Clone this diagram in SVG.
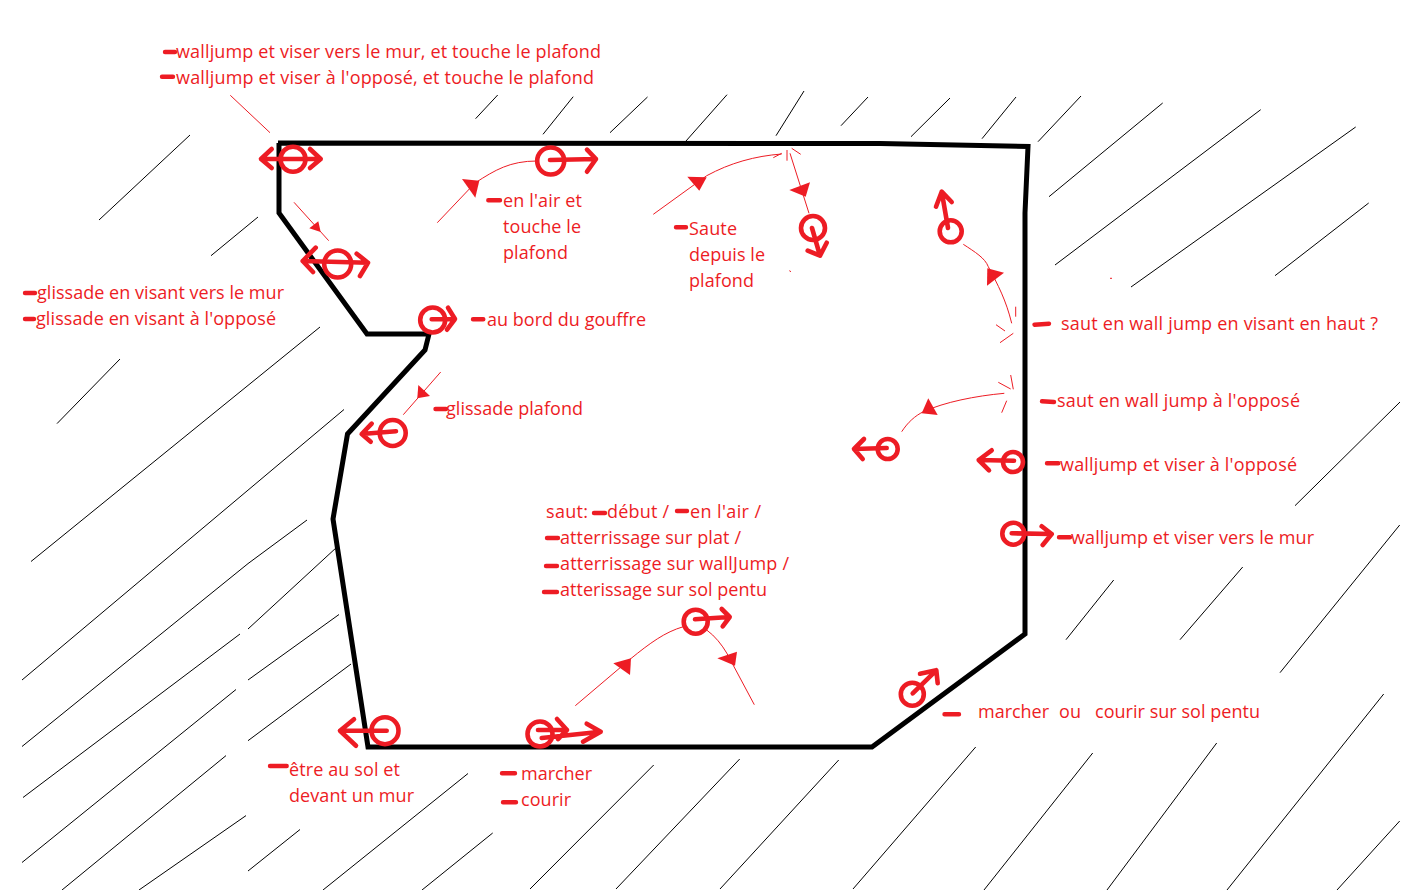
<svg xmlns="http://www.w3.org/2000/svg" width="1412" height="890" viewBox="0 0 1412 890">
<style>
.h{stroke:#000;stroke-width:1;fill:none}
.o{stroke:#000;stroke-width:5;fill:none;stroke-linejoin:miter}
.s{stroke:#ed1c24;stroke-width:4.6;fill:none;stroke-linecap:round;stroke-linejoin:round}
.d{stroke:#ed1c24;stroke-width:4.4;fill:none;stroke-linecap:round}
.t{stroke:#ed1c24;stroke-width:1;fill:none}
.a{fill:#ed1c24;stroke:none}
text{font-family:"Open Sans","Noto Sans","Liberation Sans",sans-serif;font-size:18px;fill:#ed1c24}
</style>
<rect width="1412" height="890" fill="#fff"/>
<g id="hatching">
<path class="h" d="M475.6 118.7L497.7 95M543 134.3L573.2 96.7M610 132.7L647.5 97M686 141L727 94.7M776 135.7L804 91M841 125.7L868 97M911 136.7L950 98M982 138.7L1016 97M1038 141.7L1081 96"/>
<path class="h" d="M99 220L190 135M211 255.7L258 217M57 423.6L120 359M31 561.5L320 327M22 680L344 409.5M22 746.5L248 563.6L307 520M248 629L337 547M23 797.5L240 634M248 680L339 614.5M22 862.5L236 689.5M248 740.7L351 664M62 890L226 755.6M139 890L246 815.6M248 871L300 829.5M323 890L468 773.5M422 890L492.7 833"/>
<path class="h" d="M530 889L653.7 765M616 889L739.7 759M720 889L838.7 760M853 889L975.7 747M984 890L1092.7 753M1107 890L1216.7 743M1227 890L1383.7 694M1337 890L1399.7 821"/>
<path class="h" d="M1066 639.7L1113.7 580M1180 639.7L1242.7 567M1280 672.7L1399.7 525M1295 505.7L1400 402M1049 196.7L1162.7 103M1055 265L1260.7 109.7M1131 287L1355.7 127M1275 275.7L1368.7 203"/>
</g>
<path id="outline" class="o" d="M278 143L880 143.5L1028 146.5L1025 213L1025 634L872 747L368 747L333 519L347.5 434L425 350L429 334L367 334L279 213L279 143"/>
<g id="trajectories">
<path class="t" d="M230.3 95.3L270 132.7M294 202.3L328.7 240.7"/>
<polygon class="a" points="309.3,228.3 318.3,221.3 320.7,232"/>
<path class="t" d="M437.3 222.7L475 183C495 170 510 161 537 161"/>
<polygon class="a" points="462,179 479.3,180.7 475.3,197.7"/>
<path class="t" d="M653.3 214.3L706.7 175.7C730 163 755 156 781.7 154M773.3 157.7L781.7 153.3M787 150L787 160.7M791.7 148.3L800.7 154.3M790 153.3L809 213.3M789.3 270.7L791 271.7"/>
<polygon class="a" points="687.3,176.7 706.7,177.3 699.3,190.7"/>
<polygon class="a" points="789.3,190 810,182.3 805.7,196.7"/>
<path class="t" d="M963.3 244.3C975 252 985 258 988.3 266.7C998 285 1006 300 1011.7 323.3M1015.7 306.7L1015.7 316.7M996 324.7L1005 331M1013.3 333.3L1000 342.7"/>
<polygon class="a" points="987.3,268.3 1004,272.7 987,285.7"/>
<path class="t" d="M901.7 431.7C908 422 915 416 923.3 411.7C945 402 975 396 1004.3 393.3M1010.7 375L1013.3 389.3M998.3 382.3L1010.7 389M1006.7 400.7L1001.7 412.7"/>
<polygon class="a" points="928.3,398.3 921.7,413.3 937.7,415"/>
<path class="t" d="M440.7 372L403.3 414.7"/>
<polygon class="a" points="418.3,385 430,396 417.3,398.3"/>
<path class="t" d="M575.3 705.7L630 659.3C650 643 665 632 683.3 626.7M706.7 630C715 636 722 645 726.7 653L754.3 704.7M1110 278.3L1112 278.3"/>
<polygon class="a" points="613.3,663.3 631,658.3 630,675"/>
<polygon class="a" points="717.3,658.3 737,651.7 735,665.7"/>
</g>
<g id="perso-plafond-coin"><circle class="s" cx="293" cy="159.3" r="12.5"/><path class="s" d="M261 159L320.7 159M271.7 149L261 159L271.7 168M310 149L320.7 159L310 168"/></g>
<g id="perso-glissade"><circle class="s" cx="337.7" cy="264" r="13.5"/><path class="s" d="M302.7 261L368 262.7M315.7 247.7L302.7 261L313 272M356.7 253.7L368 262.7L360 276"/></g>
<g id="perso-air-plafond"><circle class="s" cx="550.7" cy="161" r="13.5"/><path class="s" d="M550 160L596 159M587 149.7L596 159L587 171.7"/></g>
<g id="perso-bord"><circle class="s" cx="432.7" cy="320" r="12.5"/><path class="s" d="M431.7 319.3L455 319M448 307.7L455 319L447 329.7"/></g>
<g id="perso-saute-plafond"><circle class="s" cx="813" cy="228" r="12"/><path class="s" d="M812 228L820 255.7M826.7 242.7L820 255.7L807.7 250.7"/></g>
<g id="perso-saut-haut"><circle class="s" cx="950.7" cy="231.3" r="11"/><path class="s" d="M948 228L941.7 191.7M936 206.7L941.7 191.7L951.7 202"/></g>
<g id="perso-saut-oppose"><circle class="s" cx="887.7" cy="449" r="10"/><path class="s" d="M886.7 448L854 449M864 439L854 449L862.7 459"/></g>
<g id="perso-wall-oppose"><circle class="s" cx="1013" cy="462" r="10"/><path class="s" d="M1014 460.7L978.7 460M991.7 450.3L978.7 460L989 470.3"/></g>
<g id="perso-wall-mur"><circle class="s" cx="1013.3" cy="533.7" r="11"/><path class="s" d="M1011.7 533.3L1051.7 534M1041.7 526.3L1051.7 534L1042.7 545"/></g>
<g id="perso-glissade-plafond"><circle class="s" cx="392.7" cy="433" r="13"/><path class="s" d="M396 431.3L361.7 434M371.7 423.7L361.7 434L370.7 441.7"/></g>
<g id="perso-devant-mur"><circle class="s" cx="385" cy="730.7" r="13.5"/><path class="s" d="M386.7 730.7L340 730.7M354 719.3L340 730.7L356 745.7"/></g>
<g id="perso-marcher"><circle class="s" cx="540" cy="734" r="12.5"/><path class="s" d="M538 730L567 730M557 719L567 730L558 739M541.7 738L600.7 731.7M586.7 723.7L600.7 731.7L583 741.7"/></g>
<g id="perso-air"><circle class="s" cx="695.7" cy="621.7" r="12"/><path class="s" d="M695 619.3L729.7 617M721.7 609L729.7 617L722.7 626.3"/></g>
<g id="perso-pente"><circle class="s" cx="912.3" cy="694.3" r="11.5"/><path class="s" d="M912.7 693.3L936.3 670.3M920 673.7L936.3 670.3L937.7 683.3"/></g>
<g id="dashes">
<path class="d" d="M165 52L175 52M162 76.7L173 76.7M488.3 200.3L500 200.3M473 319.3L483.3 319.3M676 227.3L686 227.3M25 293L35 293M25 319L34 319M1034.5 324.7L1049 323.7M1042 401.3L1054 402M1047 463.3L1058.3 463.3M1059 537.3L1070 537.3M944.5 714.3L959 714.3M502 773.3L515 773.3M503 802.3L516 802.3M270 766L286.7 766M435.5 409L446 409M594 513L605 513M677 511L687 511M547 538L558 538M546 566L557 566M544 592L557 592"/>
</g>
<g id="labels">
<text x="176" y="58" textLength="425">walljump et viser vers le mur, et touche le plafond</text>
<text x="176" y="84" textLength="418">walljump et viser à l'opposé, et touche le plafond</text>
<text x="37" y="299" textLength="247">glissade en visant vers le mur</text>
<text x="36" y="325" textLength="240">glissade en visant à l'opposé</text>
<text x="503" y="207" textLength="79">en l'air et</text>
<text x="503" y="233" textLength="78">touche le</text>
<text x="503" y="259" textLength="65">plafond</text>
<text x="487" y="326" textLength="159">au bord du gouffre</text>
<text x="689" y="235" textLength="48">Saute</text>
<text x="689" y="261" textLength="76">depuis le</text>
<text x="689" y="287" textLength="65">plafond</text>
<text x="1061" y="330" textLength="317">saut en wall jump en visant en haut ?</text>
<text x="1057" y="407" textLength="243">saut en wall jump à l'opposé</text>
<text x="446" y="415" textLength="137">glissade plafond</text>
<text x="1060" y="471" textLength="237">walljump et viser à l'opposé</text>
<text x="1071" y="544" textLength="243">walljump et viser vers le mur</text>
<text x="546" y="518" textLength="42">saut:</text>
<text x="607" y="518" textLength="62">début /</text>
<text x="690" y="518" textLength="71">en l'air /</text>
<text x="560" y="544" textLength="181">atterrissage sur plat /</text>
<text x="560" y="570" textLength="229">atterrissage sur wallJump /</text>
<text x="560" y="596" textLength="207">atterissage sur sol pentu</text>
<text x="978" y="718" textLength="71">marcher</text>
<text x="1059" y="718" textLength="22">ou</text>
<text x="1095" y="718" textLength="165">courir sur sol pentu</text>
<text x="289" y="776" textLength="111">être au sol et</text>
<text x="289" y="802" textLength="125">devant un mur</text>
<text x="521" y="780" textLength="71">marcher</text>
<text x="521" y="806" textLength="50">courir</text>
</g>
</svg>
